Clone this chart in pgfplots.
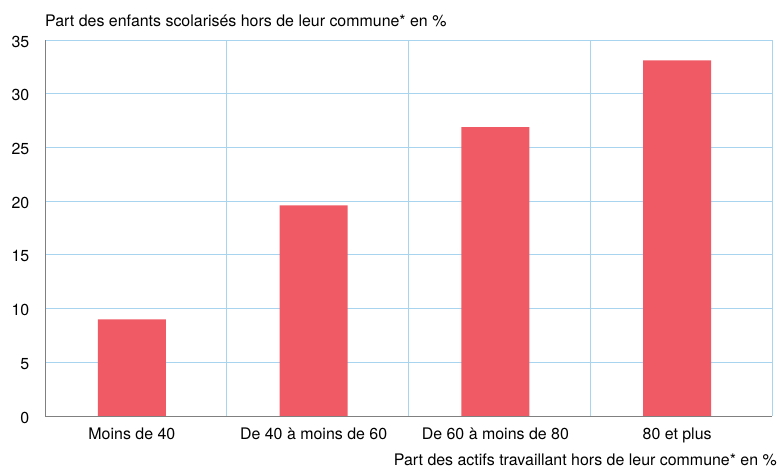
\documentclass[border=0pt]{standalone}
\usepackage{pgfplots}
\pgfplotsset{compat=1.18}
\usepackage{fontspec}
\setmainfont{TeX Gyre Heros}
\definecolor{barred}{RGB}{240,90,100}
\definecolor{gridblue}{RGB}{168,212,240}
\begin{document}
\begin{tikzpicture}
\useasboundingbox (0,0) rectangle (780bp,471bp);
\begin{axis}[
  at={(45bp,55bp)}, anchor=south west,
  scale only axis, width=727bp, height=376bp,
  xmin=-0.478, xmax=3.522, ymin=0, ymax=35,
  ytick={0,5,...,35},
  xtick={0,1,2,3},
  xticklabels={Moins de 40, De 40 à moins de 60, De 60 à moins de 80, 80 et plus},
  minor xtick={0.522,1.522,2.522,3.522},
  xminorgrids=true, ymajorgrids=true, xmajorgrids=false,
  major grid style={gridblue, line width=0.8pt},
  minor grid style={gridblue, line width=0.8pt},
  axis x line*=bottom, axis y line*=left,
  axis line style={gray, line width=0.8pt},
  major tick length=0pt, minor tick length=0pt,
  tick style={draw=none},
  /pgf/number format/assume math mode=true,
  tick label style={font=\fontsize{16}{18}\selectfont},
  xticklabel style={anchor=base, inner sep=0pt, yshift=-23.5bp},
  yticklabel style={anchor=east, inner sep=0pt, xshift=-15.5bp, yshift=-1.5bp},
  ybar, bar width=0.374,
]
\addplot[fill=barred, draw=none] coordinates {(0,9.0) (1,19.6) (2,26.9) (3,33.1)};
\end{axis}
\node[anchor=base west, inner sep=0pt, font=\fontsize{16}{18}\selectfont] at (45bp,444bp) {Part des enfants scolarisés hors de leur commune* en \%};
\node[anchor=base east, inner sep=0pt, font=\fontsize{16}{18}\selectfont] at (777bp,6bp) {Part des actifs travaillant hors de leur commune* en \%};
\end{tikzpicture}
\end{document}
